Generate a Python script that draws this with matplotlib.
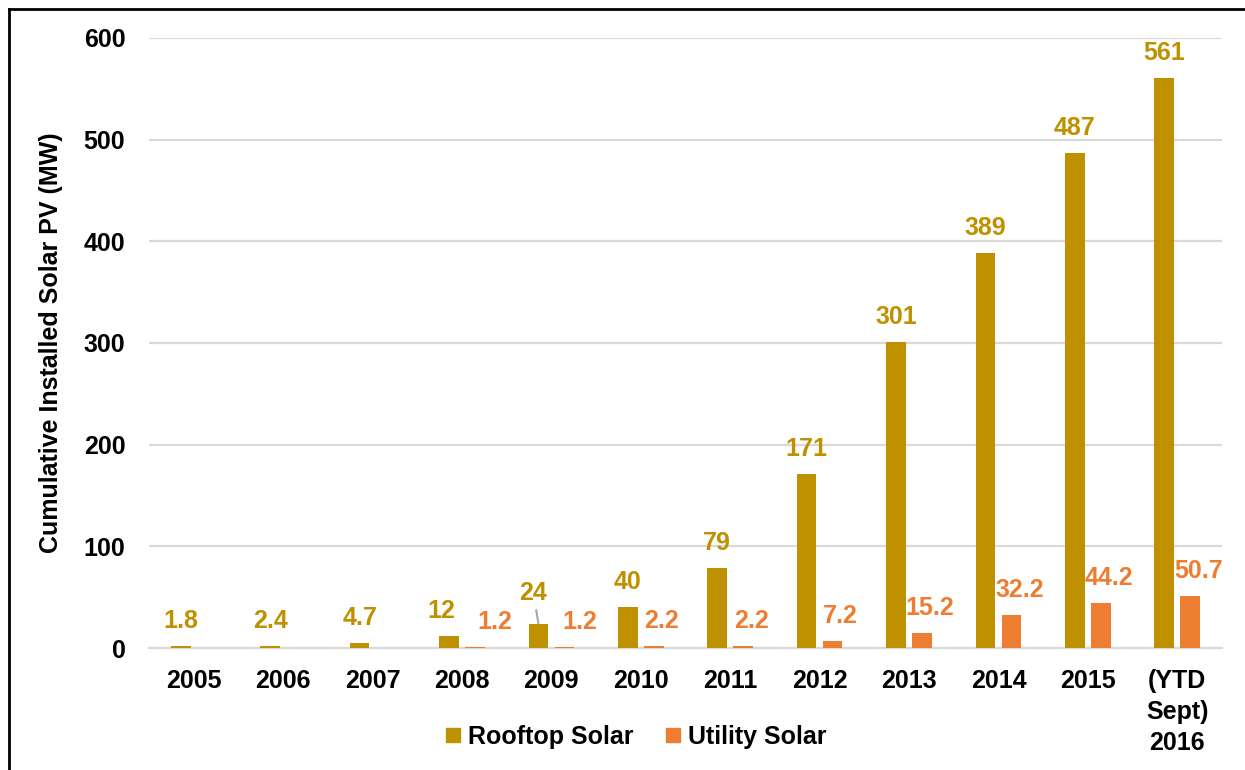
import matplotlib
matplotlib.use('Agg')
import matplotlib.pyplot as plt
from matplotlib.lines import Line2D
import numpy as np

plt.rcParams['font.family'] = ['Liberation Sans', 'DejaVu Sans']
plt.rcParams['font.weight'] = 'bold'

# data
years = ['2005', '2006', '2007', '2008', '2009', '2010', '2011', '2012',
         '2013', '2014', '2015', '(YTD\nSept)\n2016']
rooftop = [1.8, 2.4, 4.7, 12, 24, 40, 79, 171, 301, 389, 487, 561]
utility = [0, 0, 0, 1.2, 1.2, 2.2, 2.2, 7.2, 15.2, 32.2, 44.2, 50.7]

roofColor = '#BF9000'
utilColor = '#ED7D31'
fs = 18

fig = plt.figure(figsize=(12.45, 7.70), dpi=100)
ax = fig.add_axes([149/1245, 1-648/770, (1222-149)/1245, (648-38)/770])

x = np.arange(len(years))
w = 0.22
off = 0.145
ax.bar(x-off, rooftop, w, color=roofColor, zorder=3)
ax.bar(x+off, utility, w, color=utilColor, zorder=3)

# label nudges (pixels) where Excel moved them apart
roofNudge = {3: (-8, 25), 4: (-5, 31)}
utilNudge = {3: (20, 25), 4: (15, 25)}

for i, v in enumerate(rooftop):
    dx, dy = roofNudge.get(i, (0, 25))
    kw = {}
    if i == 4:
        kw['arrowprops'] = dict(arrowstyle='-', color='#A6A6A6', lw=1.5,
                                shrinkA=2, shrinkB=0)
    ax.annotate(f'{v:g}', (x[i]-off, v), xytext=(dx, dy),
                textcoords='offset pixels', ha='center', va='center',
                color=roofColor, fontsize=fs, fontweight='bold', **kw)

for i, v in enumerate(utility):
    if v <= 0:
        continue
    dx, dy = utilNudge.get(i, (8, 25))
    ax.annotate(f'{v:g}', (x[i]+off, v), xytext=(dx, dy),
                textcoords='offset pixels', ha='center', va='center',
                color=utilColor, fontsize=fs, fontweight='bold')

ax.set_xlim(-0.5, len(years)-0.5)
ax.set_ylim(0, 600)
ax.set_yticks(range(0, 601, 100))
ax.set_xticks(x)
ax.set_xticklabels(years, linespacing=1.38)
ax.tick_params(axis='both', length=0, labelsize=fs, colors='black')
ax.tick_params(axis='y', pad=17)
ax.tick_params(axis='x', pad=15)
ax.grid(axis='y', color='#D9D9D9', lw=1.6, zorder=0)
for s in ['top', 'right', 'left']:
    ax.spines[s].set_visible(False)
ax.spines['bottom'].set_color('#D9D9D9')
ax.spines['bottom'].set_linewidth(1.6)
ax.set_ylabel('Cumulative Installed Solar PV (MW)', fontsize=fs,
              fontweight='bold')
ax.yaxis.set_label_coords((63-149)/(1222-149), 0.5)

handles = [Line2D([], [], ls='none', marker='s', markersize=9.5,
                  color=roofColor),
           Line2D([], [], ls='none', marker='s', markersize=9.5,
                  color=utilColor)]
fig.legend(handles, ['Rooftop Solar', 'Utility Solar'], loc='center',
           bbox_to_anchor=(636/1245, 33/770), ncol=2, frameon=False,
           fontsize=fs, handlelength=0.6, handletextpad=0.3,
           columnspacing=1.3)

# frame round the picture (only left and top edges are visible)
lx = 8.5/1245
ty = 1-8.5/770
fig.add_artist(Line2D([lx, lx], [0, ty], color='black', lw=2,
                      transform=fig.transFigure))
fig.add_artist(Line2D([lx, 1], [ty, ty], color='black', lw=2,
                      transform=fig.transFigure))

plt.savefig('out.png', dpi=100)
